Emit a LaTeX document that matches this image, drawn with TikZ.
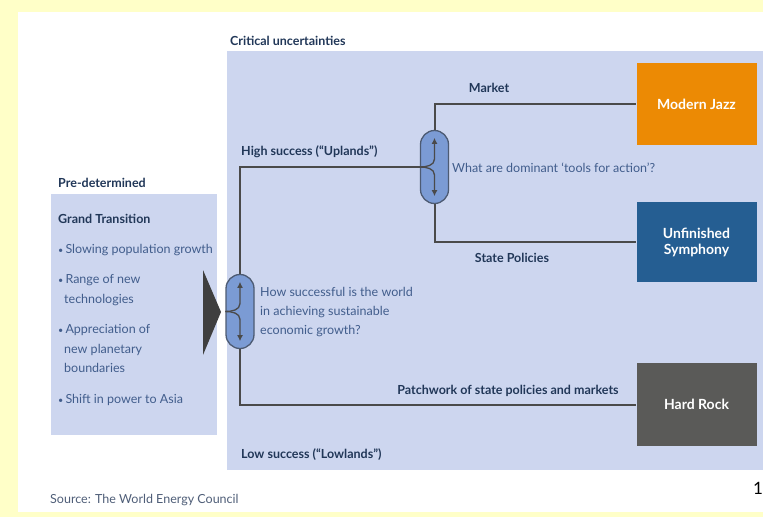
\documentclass[tikz,border=0pt]{standalone}
\usepackage{fontspec}
\setmainfont{Lato}
\usepackage{tikz}
\usetikzlibrary{positioning,arrows.meta,calc}
\definecolor{paper}{HTML}{FFFFC8}
\definecolor{panelblue}{HTML}{CDD6EF}
\definecolor{pillblue}{HTML}{7B9BD4}
\definecolor{pilledge}{HTML}{4D5B73}
\definecolor{roadgray}{HTML}{4A4A4A}
\definecolor{navy}{HTML}{213758}
\definecolor{slate}{HTML}{415D8C}
\definecolor{jazz}{HTML}{EC8A04}
\definecolor{symphony}{HTML}{255E92}
\definecolor{rock}{HTML}{5A5A58}
\definecolor{source}{HTML}{4F5E78}
\tikzset{
  panel/.style={rectangle,draw=none,fill=panelblue,inner sep=0pt},
  outcome/.style={rectangle,draw=none,inner sep=0pt,minimum width=120pt,
    text=white,align=center,font=\bfseries\fontsize{14}{16}\selectfont},
  pill/.style={rectangle,rounded corners=14pt,draw=pilledge,fill=pillblue,
    line width=1.3pt,minimum width=28pt,minimum height=74pt,inner sep=0pt},
  road/.style={draw=roadgray,line width=2pt},
  fork/.style={draw=roadgray,line width=1.3pt,-{Latex[length=6pt,width=6pt]}},
  head/.style={inner sep=0pt,anchor=base west,text=navy,
    font=\bfseries\fontsize{12.5}{15}\selectfont},
  body/.style={inner sep=0pt,anchor=base west,text=slate,
    font=\fontsize{12.5}{15}\selectfont},
  roadlabel/.style={head,anchor=base}
}
\newcommand{\bul}{{\fontsize{9}{9}\selectfont\textbullet}\,}

\begin{document}
\begin{tikzpicture}[x=1pt,y=-1pt]
  % frame
  \fill[paper] (0,0) rectangle (763,517);
  \fill[white] (18,12) rectangle (763,512);
  \useasboundingbox (0,0) rectangle (763,517);

  % panels
  \node[panel,minimum width=166pt,minimum height=241pt] (given) at (134,314.5) {};
  \node[panel,minimum width=536pt,minimum height=419pt] (open) at (495,260.5) {};
  \node[head] (crit) at (230,45) {Critical uncertainties};
  \node[head] (pre) at (58,187) {Pre-determined};

  % pre-determined list
  \node[head] (grand) at (58,223) {Grand Transition};
  \node[body] (b1) at (58,253) {\bul Slowing population growth};
  \node[body] (b2) at (58,283) {\bul Range of new};
  \node[body] (b2a) at (64,303) {technologies};
  \node[body] (b3) at (58,333) {\bul Appreciation of};
  \node[body] (b3a) at (64,353) {new planetary};
  \node[body] (b3b) at (64,372) {boundaries};
  \node[body] (b4) at (58,403) {\bul Shift in power to Asia};
  \fill[roadgray!85!black] (203,270) -- (221,312) -- (203,355) -- cycle;

  % outcomes
  \node[outcome,fill=jazz,minimum height=82pt] (mj) at (696.5,104) {Modern Jazz};
  \node[outcome,fill=symphony,minimum height=80pt] (us) at (696.5,242) {Unfinished\\Symphony};
  \node[outcome,fill=rock,minimum height=83pt] (hr) at (696.5,404.5) {Hard Rock};

  % decision points
  \node[pill] (q1) at (240,311.5) {};
  \node[pill,minimum height=73pt] (q2) at (434.5,167) {};

  \draw[road] (q1.north) |- (q2.west);
  \draw[road] (q1.south) |- (hr.west);
  \draw[road] (q2.north) |- (mj.west);
  \draw[road] (q2.south) |- (us.west);

  \draw[fork] (q1.west) to[out=0,in=-90] ($(q1.center)+(0,-8)$) -- ($(q1.north)+(0,8)$);
  \draw[fork] (q1.west) to[out=0,in=90] ($(q1.center)+(0,8)$) -- ($(q1.south)+(0,-8)$);
  \draw[fork] (q2.west) to[out=0,in=-90] ($(q2.center)+(0,-8)$) -- ($(q2.north)+(0,8)$);
  \draw[fork] (q2.west) to[out=0,in=90] ($(q2.center)+(0,8)$) -- ($(q2.south)+(0,-8)$);

  % labels
  \node[head] (high) at (241,155) {High success (“Uplands”)};
  \node[head] (low) at (241,458) {Low success (“Lowlands”)};
  \node[roadlabel] (mkt) at (489,92) {Market};
  \node[roadlabel] (state) at (512,262) {State Policies};
  \node[roadlabel] (patch) at (508,394) {Patchwork of state policies and markets};
  \node[body] (ask2) at (452,172) {What are dominant ‘tools for action’?};
  \node[body,align=left,anchor=north west,font=\fontsize{12.5}{19}\selectfont]
    (ask1) at (260,287) {How successful is the world\\in achieving sustainable\\economic growth?};

  % footer
  \node[body,text=source] (src) at (50,503) {Source: The World Energy Council};
  \node[inner sep=0pt,anchor=base west,font=\fontsize{17}{20}\selectfont] (page) at (753,494) {1};
\end{tikzpicture}
\end{document}
